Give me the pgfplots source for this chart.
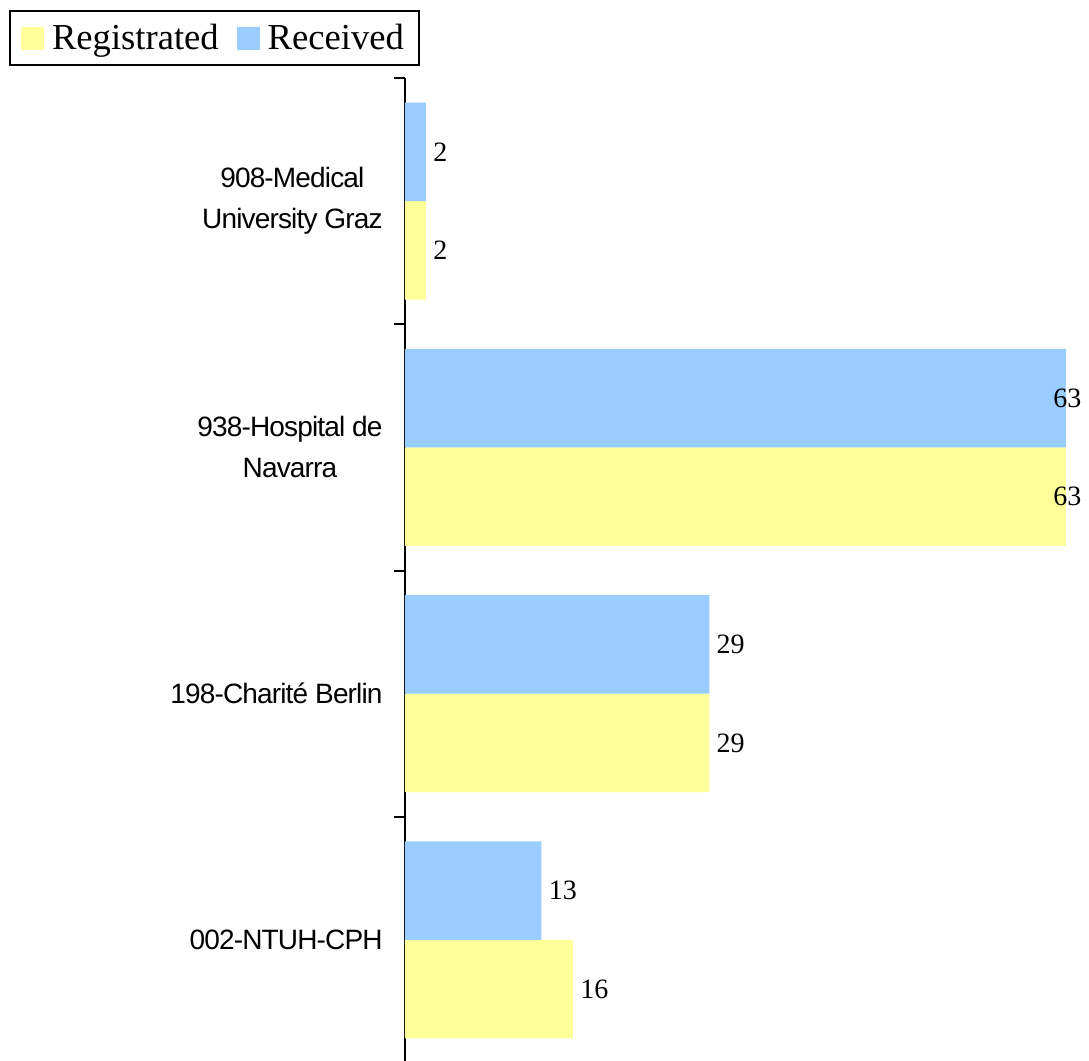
\documentclass[border=0pt]{standalone}
\usepackage{pgfplots}
\pgfplotsset{compat=1.18}
\usepackage{fontspec}
\setmainfont{Liberation Serif}
\newfontfamily\arialn[LetterSpace=-3]{Liberation Sans}
\definecolor{regyellow}{HTML}{FFFF99}
\definecolor{recblue}{HTML}{99CCFF}
\begin{document}
\begin{tikzpicture}
\begin{axis}[
  scale only axis,
  width=330.5pt, height=492.5pt,
  xbar, bar width=0.4,
  xmin=0, xmax=63, ymin=-0.5, ymax=3.5,
  axis x line=none, axis y line*=left,
  axis line style={line width=1pt},
  ytick={0,1,2,3},
  yticklabels={002-NTUH-CPH, 198-Charité Berlin, {938-Hospital de\\Navarra}, {908-Medical\\University Graz}},
  yticklabel style={align=center, inner sep=0pt, xshift=-11pt,
    font=\arialn\fontsize{14}{20.5}\selectfont},
  major tick length=0pt,
  minor ytick={-0.5,0.5,1.5,2.5,3.5},
  minor tick length=5.5pt,
  tick align=outside,
  minor tick style={line width=1pt, black},
  /pgf/number format/assume math mode=true,
  point meta=x,
  nodes near coords,
  visualization depends on={rawx \as \myx},
  every node near coord/.append style={anchor=west, inner sep=0pt,
    font=\fontsize{14}{16}\selectfont,
    xshift={ifthenelse(\myx>60,-6.5,3.5)*1pt}},
  legend columns=2,
  legend image code/.code={\fill[#1,draw=none] (0pt,-5.75pt) rectangle (11.5pt,5.75pt);},
  legend style={at={(-0.599,1.0692)}, anchor=north west, draw=black, line width=1pt,
    font=\fontsize{18.3}{21}\selectfont, inner xsep=5.5pt, inner ysep=4.5pt,
    /tikz/every odd column/.append style={column sep=2pt},
    /tikz/every even column/.append style={column sep=7pt}},
]
\addplot[fill=regyellow, draw=none, bar shift=-0.2] coordinates {
  (16,0) (29,1) (63,2) (2,3)
};
\addlegendentry{Registrated}
\addplot[fill=recblue, draw=none, bar shift=0.2] coordinates {
  (13,0) (29,1) (63,2) (2,3)
};
\addlegendentry{Received}
\coordinate (bbA) at (rel axis cs:-0.6127,0.003);
\coordinate (bbB) at (rel axis cs:1.0348,1.0792);
\end{axis}
\pgfresetboundingbox
\path[use as bounding box] (bbA) rectangle (bbB);
\end{tikzpicture}
\end{document}
